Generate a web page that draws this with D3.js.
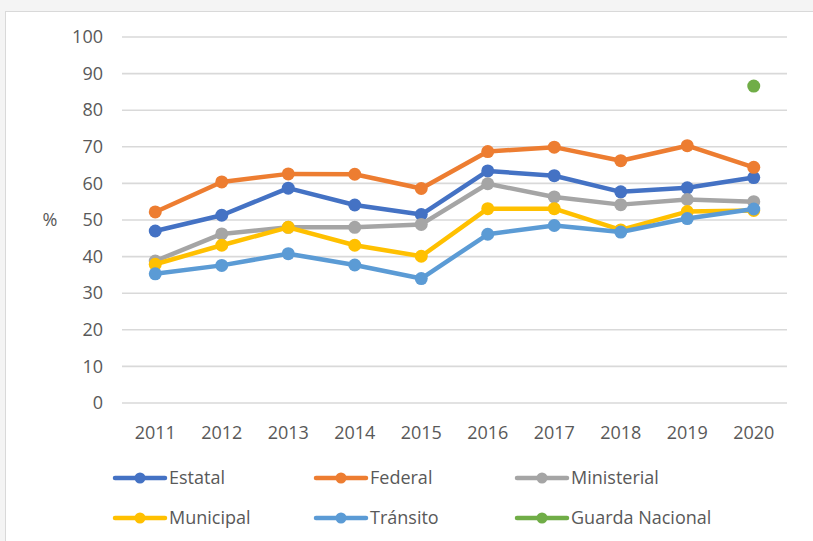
<!DOCTYPE html>
<html>
<head>
<meta charset="utf-8">
<script src="https://cdn.jsdelivr.net/npm/d3@7"></script>
<style>
html,body{margin:0;padding:0;background:#f4f4f4;}
svg{display:block;}
text{font-family:"Open Sans","Noto Sans",sans-serif;}
</style>
</head>
<body>
<svg id="chart" width="813" height="541"></svg>
<script>
const years = ["2011","2012","2013","2014","2015","2016","2017","2018","2019","2020"];
const yTicks = [0,10,20,30,40,50,60,70,80,90,100];
const seriesNames = ["Estatal","Federal","Ministerial","Municipal","Tránsito","Guarda Nacional"];
const seriesColors = ["#4472C4","#ED7D31","#A5A5A5","#FFC000","#5B9BD5","#70AD47"];
const estatal     = [47.0, 51.3, 58.7, 54.1, 51.5, 63.4, 62.1, 57.7, 58.8, 61.6];
const federal     = [52.2, 60.4, 62.6, 62.5, 58.6, 68.7, 69.9, 66.2, 70.3, 64.4];
const ministerial = [38.8, 46.2, 48.0, 48.0, 48.8, 59.9, 56.3, 54.2, 55.6, 55.0];
const municipal   = [37.9, 43.1, 48.0, 43.1, 40.1, 53.1, 53.1, 47.3, 52.3, 52.6];
const transito    = [35.3, 37.6, 40.8, 37.7, 34.0, 46.1, 48.5, 46.7, 50.4, 53.0];
const guarda      = [null, null, null, null, null, null, null, null, null, 86.6];
const seriesValues = [estatal, federal, ministerial, municipal, transito, guarda];

const svg = d3.select("#chart");
// chart area box
svg.append("rect").attr("x",5.5).attr("y",11.5).attr("width",840).attr("height",560)
  .attr("fill","#ffffff").attr("stroke","#d9d9d9").attr("stroke-width",1);

const x = d3.scaleBand().domain(years).range([122,787]);
const y = d3.scaleLinear().domain([0,100]).range([403,37]);
const textColor = "#595959";

// gridlines
svg.append("g").selectAll("line").data(yTicks).join("line")
  .attr("x1",122).attr("x2",787)
  .attr("y1",d=>y(d)).attr("y2",d=>y(d))
  .attr("stroke","#d9d9d9").attr("stroke-width",1.6);

// y axis labels
const yAxis = d3.axisLeft(y).tickValues(yTicks).tickSize(0).tickPadding(0);
const yg = svg.append("g").attr("transform","translate(103,0)").call(yAxis);
yg.select(".domain").remove();
yg.selectAll("text").attr("fill",textColor).style("font-size","18px")
  .style("font-family","'Open Sans','Noto Sans',sans-serif");

// x axis labels
const xAxis = d3.axisBottom(x).tickSize(0).tickPadding(0);
const xg = svg.append("g").attr("transform","translate(0,426)").call(xAxis);
xg.select(".domain").remove();
xg.selectAll("text").attr("fill",textColor).style("font-size","18px")
  .style("font-family","'Open Sans','Noto Sans',sans-serif");

// % label
svg.append("text").attr("x",50).attr("y",y(50)).attr("dy","0.35em")
  .attr("text-anchor","middle").attr("fill",textColor).style("font-size","18px").text("%");

// series
const line = d3.line().defined(d=>d.v!=null)
  .x(d=>x(d.year)+x.bandwidth()/2).y(d=>y(d.v));
seriesValues.forEach((vals,i)=>{
  const pts = years.map((yr,j)=>({year:yr,v:vals[j]}));
  const g = svg.append("g");
  g.append("path").datum(pts).attr("d",line).attr("fill","none")
    .attr("stroke",seriesColors[i]).attr("stroke-width",4.5)
    .attr("stroke-linejoin","round").attr("stroke-linecap","round");
  g.selectAll("circle").data(pts.filter(d=>d.v!=null)).join("circle")
    .attr("cx",d=>x(d.year)+x.bandwidth()/2).attr("cy",d=>y(d.v))
    .attr("r",6.5).attr("fill",seriesColors[i]);
});

// legend
const legX = [115,316,517];
const legY = [478,518];
seriesNames.forEach((name,i)=>{
  const lx = legX[i%3], ly = legY[Math.floor(i/3)];
  const g = svg.append("g");
  g.append("line").attr("x1",lx).attr("x2",lx+50).attr("y1",ly).attr("y2",ly)
    .attr("stroke",seriesColors[i]).attr("stroke-width",4.5).attr("stroke-linecap","round");
  g.append("circle").attr("cx",lx+25).attr("cy",ly).attr("r",5.5).attr("fill",seriesColors[i]);
  g.append("text").attr("x",lx+54).attr("y",ly).attr("dy","0.35em")
    .attr("fill",textColor).style("font-size","18px").text(name);
});
</script>
</body>
</html>
